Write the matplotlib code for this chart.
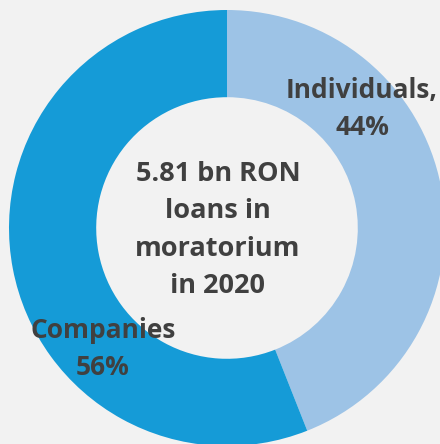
import matplotlib.pyplot as plt

# Loans in moratorium, split by borrower type
labels = ["Individuals,\n44%", "Companies\n56%"]
shares = [44, 56]
colors = ["#9DC3E6", "#159BD7"]
center_text = "5.81 bn RON\nloans in\nmoratorium\nin 2020"

plt.rcParams['font.family'] = ['Open Sans', 'DejaVu Sans']

fig = plt.figure(figsize=(4.4, 4.44), dpi=100, facecolor="#F2F2F2")
ax = fig.add_axes([0, 0, 1, 1])
ax.set_facecolor("#F2F2F2")

R = 218
cx, cy = 227, 444 - 228
ax.pie(shares, colors=colors, startangle=90, counterclock=False,
       radius=R, center=(cx, cy), frame=True,
       wedgeprops=dict(width=R * 0.4, linewidth=0))
ax.set_xlim(0, 440)
ax.set_ylim(0, 444)
ax.set_aspect("equal")
ax.axis("off")

txt = dict(color="#404040", fontweight="bold", ha="center", va="center")
ax.text(218, 444 - 230, center_text, fontsize=19.5, linespacing=1.57, **txt)
ax.text(362, 444 - 109, labels[0], fontsize=19, linespacing=1.5, **txt)
ax.text(103, 444 - 349, labels[1], fontsize=19, linespacing=1.5, **txt)

fig.savefig("out.png", dpi=100, facecolor=fig.get_facecolor())
